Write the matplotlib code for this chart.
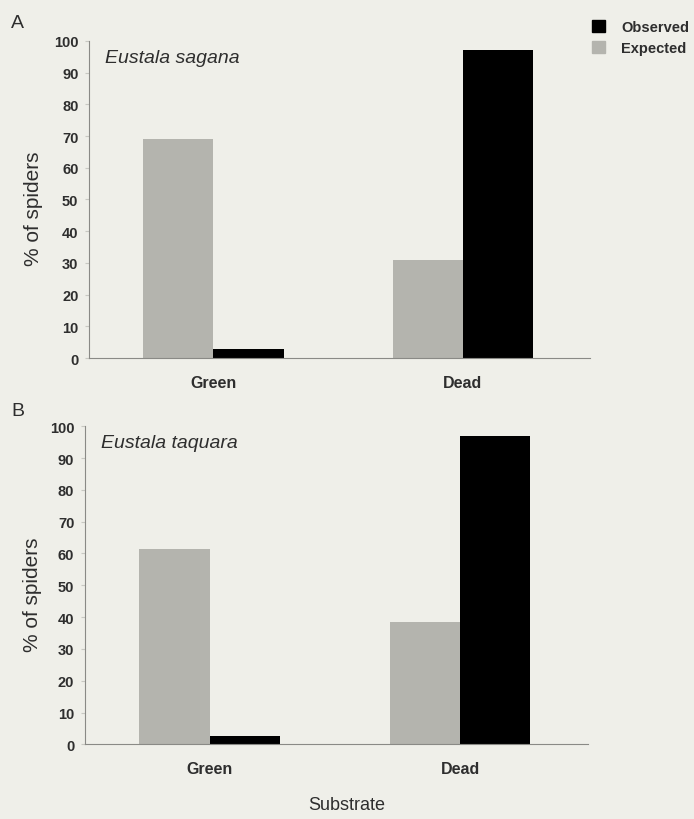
import numpy as np
import matplotlib
matplotlib.use("Agg")
import matplotlib.pyplot as plt
from matplotlib.patches import Patch

plt.rcParams['font.family'] = ['Liberation Sans', 'DejaVu Sans']

substrates = ['Green', 'Dead']
species = ['Eustala sagana', 'Eustala taquara']
panel_letters = ['A', 'B']
expected = [[69, 31], [61.5, 38.5]]
observed = [[3, 97], [2.5, 97]]
yticks = list(range(0, 101, 10))

bg = '#efefe9'
grey = '#b4b4ae'
spine_col = '#8a8a86'
txt = '#2e2e2e'

fig = plt.figure(figsize=(6.94, 8.2), dpi=100, facecolor=bg)

# [left, bottom, width, height] for the two panels
boxes = [[0.128, 0.562, 0.722, 0.387], [0.122, 0.091, 0.725, 0.388]]
label_x = [-0.092, -0.084]

x = np.arange(len(substrates))
w = 0.281
for i, box in enumerate(boxes):
    ax = fig.add_axes(box)
    ax.set_facecolor(bg)
    ax.bar(x - w / 2, expected[i], width=w, color=grey, label='Expected')
    ax.bar(x + w / 2, observed[i], width=w, color='black', label='Observed')
    ax.set_xlim(-0.5, 1.51)
    ax.set_ylim(0, 100)
    ax.set_yticks(yticks)
    ax.set_xticks(x)
    ax.set_xticklabels(substrates, fontsize=11.5, fontweight='bold', color=txt)
    ax.tick_params(axis='x', length=0, pad=12)
    ax.tick_params(axis='y', length=3, color='#c8c8c2', labelsize=10.5, pad=4.5)
    for lbl in ax.get_yticklabels():
        lbl.set_fontweight('bold')
        lbl.set_color(txt)
    for s in ['top', 'right']:
        ax.spines[s].set_visible(False)
    for s in ['left', 'bottom']:
        ax.spines[s].set_color(spine_col)
        ax.spines[s].set_linewidth(0.8)
    ax.set_ylabel('% of spiders', fontsize=15, color=txt)
    ax.yaxis.set_label_coords(label_x[i], 0.475)
    ax.text(0.032, 0.975, species[i], transform=ax.transAxes, fontsize=14,
            style='italic', color=txt, va='top')

fig.text(0.016, 0.982, panel_letters[0], fontsize=14, va='top', color=txt)
fig.text(0.016, 0.509, panel_letters[1], fontsize=14, va='top', color=txt)
fig.text(0.5, 0.012, 'Substrate', fontsize=13, ha='center', color=txt)

handles = [Patch(color='black', label='Observed'), Patch(color=grey, label='Expected')]
leg = fig.legend(handles=handles, loc='upper right', bbox_to_anchor=(1.012, 0.99),
                 frameon=False, fontsize=10.5, handlelength=0.9, handleheight=0.9,
                 handletextpad=1.1, labelspacing=0.45)
for t in leg.get_texts():
    t.set_fontweight('bold')
    t.set_color(txt)

fig.savefig('out.png', dpi=100, facecolor=bg)
